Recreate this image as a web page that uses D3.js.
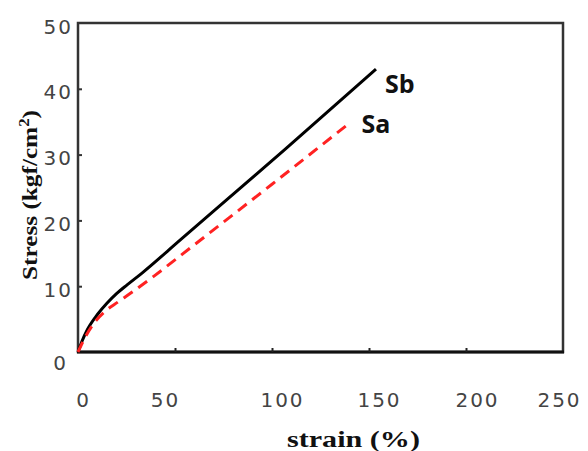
<!DOCTYPE html>
<style>
    body {
        margin: 0;
        background: #fff;
    }
</style>
<div id="container"></div>
<script src="https://cdn.jsdelivr.net/npm/d3@7"></script>
<script>
    // data: [strain %, stress kgf/cm2]
    const sbPoints = [[0, 0], [2, 1.6], [5, 3.5], [10, 5.7], [14.9, 7.4], [20, 8.9], [25.3, 10.2], [33, 12.0], [52.6, 17.0], [106.7, 30.8], [153.6, 43.0]];
    const saPoints = [[0, 0], [4, 2.4], [8.8, 4.6], [14, 6.2], [20.6, 7.6], [28.4, 9.2], [39, 11.5], [60, 16.3], [100, 25.5], [140, 34.8]];
    const xTicks = [0, 50, 100, 150, 200, 250];
    const yTicks = [0, 10, 20, 30, 40, 50];
    const seriesNames = ["Sb", "Sa"];

    const width = 588, height = 451;
    const margin = {top: 23, right: 25, bottom: 99, left: 78};

    const svg = d3.select("#container").append("svg")
        .attr("width", width)
        .attr("height", height);

    const x = d3.scaleLinear().domain([0, 250]).range([margin.left, width - margin.right]);
    const y = d3.scaleLinear().domain([0, 50]).range([height - margin.bottom, margin.top]);

    // frame around the plot
    svg.append("rect")
        .attr("x", x(0))
        .attr("y", y(50))
        .attr("width", x(250) - x(0))
        .attr("height", y(0) - y(50))
        .attr("fill", "none")
        .attr("stroke", "#333")
        .attr("stroke-width", 2.5);
    svg.append("line")
        .attr("x1", x(0) - 1).attr("x2", x(250) + 1)
        .attr("y1", y(0)).attr("y2", y(0))
        .attr("stroke", "#111")
        .attr("stroke-width", 3);

    // x axis, ticks pointing inside
    const labelShift = {0: 5, 50: -10, 100: 10, 150: 10, 200: 11, 250: -4};
    const gx = svg.append("g")
        .attr("transform", `translate(0,${y(0)})`)
        .call(d3.axisBottom(x).tickValues(xTicks).tickSize(-4).tickFormat(d3.format("d")));
    gx.select(".domain").remove();
    gx.selectAll("line").attr("stroke", "#222").attr("stroke-width", 2);
    gx.selectAll("text")
        .attr("y", 41)
        .attr("dx", d => labelShift[d])
        .attr("fill", "#444")
        .style("font", "20px 'DejaVu Sans'")
        .style("letter-spacing", "2px");
    gx.selectAll(".tick").filter(d => d === 0 || d === 250).select("line").remove();

    const gy = svg.append("g")
        .attr("transform", `translate(${x(0)},0)`)
        .call(d3.axisLeft(y).tickValues(yTicks).tickSize(-4).tickFormat(d3.format("d")));
    gy.select(".domain").remove();
    gy.selectAll("line").attr("stroke", "#333").attr("stroke-width", 2);
    gy.selectAll("text")
        .attr("x", -5)
        .attr("dy", d => d === 0 ? "0.85em" : "0.5em")
        .attr("fill", "#444")
        .style("font", "20px 'DejaVu Sans'")
        .style("letter-spacing", "2px");
    gy.selectAll(".tick").filter(d => d === 0 || d === 50).select("line").remove();
    gy.selectAll(".tick").filter(d => d === 0).select("text").attr("x", -10);

    const line = d3.line()
        .x(d => x(d[0]))
        .y(d => y(d[1]))
        .curve(d3.curveMonotoneX);

    svg.append("path")
        .datum(sbPoints)
        .attr("d", line)
        .attr("fill", "none")
        .attr("stroke", "#000")
        .attr("stroke-width", 3);

    svg.append("path")
        .datum(saPoints)
        .attr("d", line)
        .attr("fill", "none")
        .attr("stroke", "#ff2222")
        .attr("stroke-width", 3)
        .attr("stroke-dasharray", "11,7");

    // series labels next to the line ends
    const ends = [sbPoints[sbPoints.length - 1], saPoints[saPoints.length - 1]];
    svg.selectAll(".series-label")
        .data(seriesNames)
        .join("text")
        .attr("class", "series-label")
        .attr("x", (d, i) => x(ends[i][0]) + (i === 0 ? 9 : 12))
        .attr("y", (d, i) => y(ends[i][1]) + (i === 0 ? 24 : 10))
        .style("font", "bold 25px 'Open Sans'")
        .attr("fill", "#111")
        .text(d => d);

    // axis titles
    svg.append("text")
        .attr("x", 287)
        .attr("y", 447)
        .attr("textLength", 133)
        .attr("lengthAdjust", "spacingAndGlyphs")
        .style("font", "bold 23px 'Liberation Serif'")
        .attr("fill", "#111")
        .text("strain (%)");

    const yt = svg.append("text")
        .attr("transform", "translate(37,280) rotate(-90)")
        .attr("textLength", 170)
        .attr("lengthAdjust", "spacingAndGlyphs")
        .style("font", "bold 21px 'Liberation Serif'")
        .attr("fill", "#111");
    yt.append("tspan").text("Stress (kgf/cm");
    yt.append("tspan").attr("dy", -8).style("font-size", "14px").text("2");
    yt.append("tspan").attr("dy", 8).text(")");
</script>
